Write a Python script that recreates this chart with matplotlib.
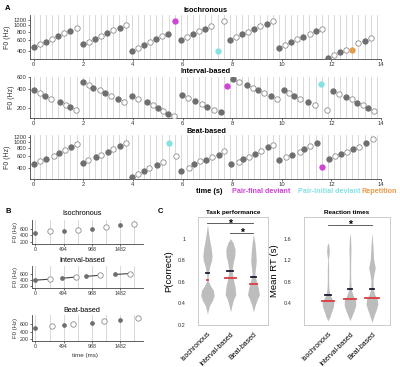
import matplotlib
matplotlib.use("Agg")
import matplotlib.pyplot as plt
from matplotlib.ticker import NullLocator

plt.rcParams['font.family'] = ['Liberation Sans', 'DejaVu Sans']

# ---------------- panel A data (time in s, F0 in Hz) ----------------
beat_step = 0.247
n_grid = 57

iso_t = [0, .25, .49, .74, .99, 1.24, 1.48, 1.73,
         1.98, 2.22, 2.47, 2.72, 2.96, 3.21, 3.46, 3.71,
         3.95, 4.20, 4.45, 4.69, 4.94, 5.19, 5.43, 5.68,
         5.93, 6.18, 6.42, 6.67, 6.92, 7.16, 7.41, 7.66,
         7.90, 8.15, 8.40, 8.65, 8.89, 9.14, 9.39, 9.63,
         9.88, 10.13, 10.37, 10.62, 10.87, 11.12, 11.36, 11.61,
         11.86, 12.10, 12.35, 12.60, 12.84, 13.09, 13.34, 13.59]
iso_f0 = [462, 517, 555, 625, 687, 749, 826, 910,
          510, 561, 625, 687, 758, 837, 922, 1018,
          405, 446, 496, 555, 618, 687, 742, 1175,
          596, 657, 733, 806, 876, 967, 405, 1186,
          596, 657, 733, 797, 868, 967, 1060, 1175,
          452, 502, 547, 604, 662, 733, 806, 888,
          310, 350, 381, 420, 420, 528, 566, 634]
iso_kind = "cocococo" "cocococo" "cocococm" "cococoyo" "cocococo" "cocococo" "cocoroco"

int_t = [0.01, 0.27, 0.47, 0.71, 1.05, 1.29, 1.48, 1.72,
         1.99, 2.23, 2.40, 2.66, 2.86, 3.11, 3.38, 3.64,
         3.97, 4.21, 4.55, 4.79, 4.99, 5.22, 5.43, 5.66,
         5.97, 6.21, 6.50, 6.77, 7.00, 7.25, 7.54, 7.78,
         8.03, 8.26, 8.59, 8.84, 9.06, 9.30, 9.56, 9.81,
         10.07, 10.31, 10.50, 10.75, 11.06, 11.32, 11.58, 11.83,
         12.05, 12.29, 12.59, 12.83, 13.03, 13.26, 13.48, 13.71]
int_f0 = [376, 338, 307, 278, 249, 226, 205, 184,
          516, 462, 415, 376, 341, 307, 278, 249,
          303, 278, 246, 223, 202, 181, 163, 148,
          314, 284, 262, 231, 206, 188, 171, 441,
          562, 504, 457, 415, 376, 338, 307, 278,
          376, 341, 307, 278, 252, 226, 475, 185,
          367, 330, 299, 274, 244, 223, 198, 177]
int_kind = "cocococo" "cocococo" "cocococo" "cocococm" "cocococo" "cococoyo" "cocococo"

beat_t = [0.01, 0.27, 0.51, 0.82, 1.02, 1.28, 1.52, 1.75,
          1.99, 2.19, 2.53, 2.73, 2.98, 3.20, 3.47, 3.72,
          3.98, 4.21, 4.45, 4.66, 4.95, 5.23, 5.47, 5.73,
          5.94, 6.25, 6.45, 6.71, 6.94, 7.20, 7.45, 7.68,
          7.95, 8.26, 8.43, 8.69, 8.93, 9.16, 9.43, 9.64,
          9.90, 10.17, 10.41, 10.72, 10.91, 11.15, 11.41, 11.62,
          11.89, 12.14, 12.38, 12.63, 12.88, 13.13, 13.38, 13.68]
beat_f0 = [460, 500, 555, 612, 681, 750, 832, 916,
           466, 526, 584, 635, 688, 765, 861, 947,
           291, 327, 360, 395, 446, 483, 947, 603,
           360, 400, 450, 505, 530, 590, 625, 730,
           455, 495, 545, 590, 650, 730, 820, 895,
           525, 590, 635, 695, 765, 860, 947, 405,
           545, 603, 650, 705, 775, 845, 947, 1090]
beat_kind = "cocococo" "cocococo" "cococoyo" "cocococo" "cocococo" "cocococm" "cocococo"

row_titles = ["Isochronous", "Interval-based", "Beat-based"]
row_yticks = [[400, 600, 800, 1000, 1200], [200, 400, 600], [400, 600, 800, 1000, 1200]]
row_ylims = [(300, 1450), (140, 610), (270, 1270)]
legend_labels = ["Pair-final deviant", "Pair-initial deviant", "Repetition"]

# ---------------- panel B data (time in ms) ----------------
b_ticks = [0, 494, 988, 1482]
b_iso_t = [0, 247, 494, 741, 988, 1235, 1482, 1729]
b_iso_f0 = [460, 515, 540, 570, 600, 650, 690, 740]
b_int_t = [0, 247, 468, 710, 884, 1127, 1387, 1647]
b_int_f0 = [400, 430, 460, 500, 520, 555, 580, 610]
b_beat_t = [0, 294, 494, 660, 988, 1196, 1482, 1790]
b_beat_f0 = [510, 550, 570, 600, 640, 680, 720, 770]

# ---------------- panel C data (violin outlines) ----------------
conds = ["Isochronous", "Interval-based", "Beat-based"]
task_y = [[1.13, 1.02, 0.90, 0.84, 0.80, 0.75, 0.68, 0.65, 0.61, 0.56, 0.52, 0.47, 0.42, 0.38, 0.33, 0.30],
          [1.00, 0.96, 0.90, 0.84, 0.78, 0.71, 0.67, 0.61, 0.55, 0.48, 0.44, 0.38, 0.32],
          [1.04, 0.96, 0.87, 0.79, 0.73, 0.67, 0.61, 0.55, 0.48, 0.44, 0.38, 0.32]]
task_w = [[0, 0.07, 0.17, 0.20, 0.18, 0.11, 0.04, 0.03, 0.03, 0.14, 0.26, 0.29, 0.20, 0.09, 0.03, 0],
          [0, 0.12, 0.20, 0.19, 0.12, 0.07, 0.09, 0.14, 0.20, 0.23, 0.14, 0.06, 0],
          [0, 0.06, 0.10, 0.12, 0.09, 0.06, 0.12, 0.20, 0.26, 0.17, 0.07, 0]]
task_median = [0.613, 0.632, 0.577]
task_median_w = [0.04, 0.22, 0.17]
task_mean = [0.684, 0.70, 0.644]
task_mean_w = [0.06, 0.13, 0.11]

rt_y = [[1.53, 1.45, 1.35, 1.28, 1.22, 1.03, 0.79, 0.66, 0.57, 0.51, 0.42, 0.33, 0.23, 0.14, 0.08],
        [1.71, 1.59, 1.40, 1.16, 0.91, 0.73, 0.63, 0.54, 0.45, 0.36, 0.26, 0.17, 0.08],
        [1.71, 1.46, 1.22, 1.06, 0.94, 0.82, 0.66, 0.57, 0.48, 0.39, 0.30, 0.20, 0.11, 0.05]]
rt_w = [[0, 0.05, 0.06, 0.04, 0.015, 0.03, 0.03, 0.045, 0.09, 0.15, 0.27, 0.24, 0.15, 0.08, 0],
        [0, 0.03, 0.045, 0.03, 0.03, 0.045, 0.075, 0.15, 0.26, 0.26, 0.18, 0.09, 0],
        [0, 0.045, 0.075, 0.15, 0.09, 0.045, 0.06, 0.12, 0.24, 0.27, 0.21, 0.12, 0.045, 0]]
rt_median = [0.44, 0.48, 0.50]
rt_median_w = [0.29, 0.26, 0.30]
rt_mean = [0.555, 0.665, 0.665]
rt_mean_w = [0.14, 0.10, 0.11]

styles = {
    'c': dict(mfc='#6e6e6e', mec='#6e6e6e'),
    'o': dict(mfc='white', mec='#8c8c8c'),
    'm': dict(mfc='#d044d4', mec='#d044d4'),
    'y': dict(mfc='#86e2e2', mec='#86e2e2'),
    'r': dict(mfc='#e89a4c', mec='#e89a4c'),
}

fig = plt.figure(figsize=(4, 3.67), dpi=100)
W, H = 400.0, 367.0


def box(x0, y0, x1, y1):
    # pixel box (top-left origin) -> figure fraction
    return [x0 / W, 1 - y1 / H, (x1 - x0) / W, (y1 - y0) / H]


# ---------------- panel A ----------------
rows = [(iso_t, iso_f0, iso_kind), (int_t, int_f0, int_kind), (beat_t, beat_f0, beat_kind)]
a_boxes = [(30, 15, 381, 59), (30, 77, 381, 118), (30, 135, 381, 179)]
a_title_y = [10, 71.5, 131]
for i, (t, f0, kind) in enumerate(rows):
    ax = fig.add_axes(box(*a_boxes[i]))
    for k in range(n_grid):
        ax.axvline(k * beat_step, color='#d2d2d2', lw=0.6, zorder=0)
    for tt, ff, kk in zip(t, f0, kind):
        ax.plot(tt, ff, 'o', ms=3.9, mew=0.6, zorder=3, **styles[kk])
    ax.set_yscale('log')
    ax.set_ylim(*row_ylims[i])
    ax.set_xlim(-0.15, 14)
    ax.set_yticks(row_yticks[i])
    ax.set_yticklabels([str(v) for v in row_yticks[i]])
    ax.yaxis.set_minor_locator(NullLocator())
    ax.set_xticks(range(0, 15, 2))
    ax.tick_params(labelsize=4.2, length=1.5, width=0.5, pad=1, colors='#333333')
    for s in ['top', 'right']:
        ax.spines[s].set_visible(False)
    for s in ['left', 'bottom']:
        ax.spines[s].set_linewidth(0.6)
        ax.spines[s].set_color('#444444')
    ax.set_ylabel('F0 (Hz)', fontsize=5, labelpad=1.5, color='#333333')
    fig.text(206 / W, 1 - a_title_y[i] / H, row_titles[i], ha='center', va='center',
             fontsize=5.3, fontweight='bold')

fig.text(196 / W, 1 - 192 / H, 'time (s)', ha='left', va='center', fontsize=5.3, fontweight='bold')
for x, lab, col in zip([232, 298, 361], legend_labels, ['#d044d4', '#86e2e2', '#e89a4c']):
    fig.text(x / W, 1 - 192 / H, lab, ha='left', va='center', fontsize=5.2,
             fontweight='bold', color=col)

fig.text(5 / W, 1 - 8 / H, 'A', fontsize=5.5, fontweight='bold', va='center')
fig.text(5 / W, 1 - 211 / H, 'B', fontsize=5.5, fontweight='bold', va='center')
fig.text(158 / W, 1 - 211 / H, 'C', fontsize=5.5, fontweight='bold', va='center')

# ---------------- panel B ----------------
b_rows = [(b_iso_t, b_iso_f0, False), (b_int_t, b_int_f0, True), (b_beat_t, b_beat_f0, False)]
b_boxes = [(32, 220, 143, 244), (32, 266, 143, 288), (32, 315, 143, 341)]
b_title_y = [214, 261, 310]
for i, (t, f0, joined) in enumerate(b_rows):
    ax = fig.add_axes(box(*b_boxes[i]))
    for k in range(8):
        ax.axvline(k * beat_step * 1000, color='#d2d2d2', lw=0.6, zorder=0)
    if joined:
        for j in range(0, len(t), 2):
            ax.plot(t[j:j + 2], f0[j:j + 2], '-', color='#444444', lw=0.8, zorder=2)
    ax.plot(t[0::2], f0[0::2], 'o', ms=2.8, mfc='#6e6e6e', mec='#6e6e6e', mew=0.5, zorder=3)
    ax.plot(t[1::2], f0[1::2], 'o', ms=3.9, mfc='white', mec='#8c8c8c', mew=0.6, zorder=3)
    ax.set_xlim(-60, 1880)
    ax.set_ylim(150, 850)
    ax.set_yticks([200, 400, 600])
    ax.set_xticks(b_ticks)
    ax.tick_params(labelsize=3.8, length=1.5, width=0.5, pad=1, colors='#333333')
    for s in ['top', 'right']:
        ax.spines[s].set_visible(False)
    for s in ['left', 'bottom']:
        ax.spines[s].set_linewidth(0.6)
        ax.spines[s].set_color('#444444')
    ax.set_ylabel('F0 (Hz)', fontsize=4.3, labelpad=1, color='#333333')
    fig.text(82 / W, 1 - b_title_y[i] / H, row_titles[i], ha='center', va='center', fontsize=5.2)
fig.text(85 / W, 1 - 355 / H, 'time (ms)', ha='center', va='center', fontsize=4.5, color='#333333')

# ---------------- panel C ----------------
def violin_panel(rect, xlim, ylim, yticks, ys, ws, med, med_w, mean, mean_w, title, ylabel):
    ax = fig.add_axes(box(*rect))
    for i in range(3):
        pos = i + 1
        left = [pos - w for w in ws[i]]
        right = [pos + w for w in ws[i]]
        ax.fill_betweenx(ys[i], left, right, color='#bdbdbd', lw=0, zorder=1)
        ax.plot([pos - med_w[i], pos + med_w[i]], [med[i], med[i]], color='#e0393e', lw=1.3, zorder=3)
        ax.plot([pos - mean_w[i], pos + mean_w[i]], [mean[i], mean[i]], color='#1a1a2e', lw=1.3, zorder=3)
    ax.set_xlim(*xlim)
    ax.set_ylim(*ylim)
    ax.set_yticks(yticks)
    ax.set_yticklabels([('%g' % v) for v in yticks])
    ax.set_xticks([1, 2, 3])
    ax.set_xticklabels(conds, rotation=45, ha='right', rotation_mode='anchor', fontsize=5)
    ax.tick_params(axis='y', labelsize=4, length=0, pad=9, colors='#333333')
    ax.tick_params(axis='x', length=0, pad=4)
    for s in ax.spines.values():
        s.set_color('#c4c4c4')
        s.set_linewidth(0.6)
    ax.set_title(title, fontsize=4.6, fontweight='bold', pad=2)
    ax.set_ylabel(ylabel, fontsize=6.8, labelpad=3)
    return ax


axT = violin_panel((198, 217, 268, 325), (0.59, 3.63), (0.2, 1.2), [0.2, 0.4, 0.6, 0.8, 1],
                   task_y, task_w, task_median, task_median_w, task_mean, task_mean_w,
                   'Task performance', 'P(correct)')
axT.plot([1, 3], [1.14, 1.14], color='#444444', lw=0.6)
axT.text(2, 1.14, '*', ha='center', va='center', fontsize=7.5, fontweight='bold')
axT.plot([2, 3], [1.05, 1.05], color='#444444', lw=0.6)
axT.text(2.5, 1.05, '*', ha='center', va='center', fontsize=7.5, fontweight='bold')

axR = violin_panel((304, 217, 390, 325), (-0.09, 3.82), (0, 2), [0.4, 0.8, 1.2, 1.6],
                   rt_y, rt_w, rt_median, rt_median_w, rt_mean, rt_mean_w,
                   'Reaction times', 'Mean RT (s)')
axR.plot([1, 3], [1.85, 1.85], color='#444444', lw=0.6)
axR.text(2, 1.85, '*', ha='center', va='center', fontsize=7.5, fontweight='bold')

fig.savefig('out.png', dpi=100)
